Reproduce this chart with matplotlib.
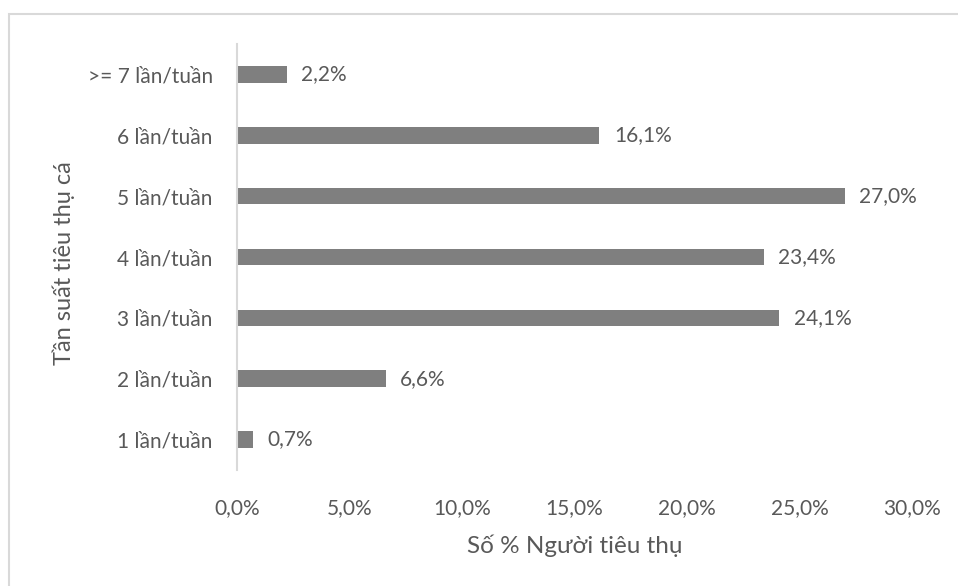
import matplotlib.pyplot as plt
from matplotlib.patches import Rectangle
from matplotlib.ticker import FuncFormatter

# frequency of fish consumption per week, share of consumers (%)
categories = ["1 lần/tuần", "2 lần/tuần", "3 lần/tuần", "4 lần/tuần",
              "5 lần/tuần", "6 lần/tuần", ">= 7 lần/tuần"]
percent = [0.7, 6.6, 24.1, 23.4, 27.0, 16.1, 2.2]
x_ticks = [0, 5, 10, 15, 20, 25, 30]

plt.rcParams['font.family'] = ['Lato', 'DejaVu Sans']
text_color = '#595959'
bar_color = '#7f7f7f'

W, H = 958, 586
fig = plt.figure(figsize=(W / 100, H / 100), dpi=100)
ax = fig.add_axes([237 / W, (H - 470) / H, (912 - 237) / W, (470 - 44) / H])

# outer frame of the chart area (runs off the right and bottom edges)
fig.patches.append(Rectangle((9 / W, -0.5), 2.0, (H - 14) / H + 0.5, transform=fig.transFigure,
                             fill=False, edgecolor='#d9d9d9', linewidth=1.5))

y = list(range(len(categories)))
ax.barh(y, percent, height=0.27, color=bar_color)

def pct(v):
    return f"{v:.1f}%".replace('.', ',')

for yi, v in zip(y, percent):
    ax.text(v + 0.65, yi, pct(v), va='center', ha='left', fontsize=15, color=text_color)

ax.set_xlim(0, 30)
ax.set_ylim(-0.5, len(categories) - 0.5)
ax.set_xticks(x_ticks)
ax.xaxis.set_major_formatter(FuncFormatter(lambda v, _: pct(v)))
ax.set_yticks(y)
ax.set_yticklabels(categories)
ax.tick_params(axis='both', length=0, labelsize=15, colors=text_color)
ax.tick_params(axis='x', pad=20)
ax.tick_params(axis='y', pad=17.5)

for s in ['top', 'right', 'bottom']:
    ax.spines[s].set_visible(False)
ax.spines['left'].set_color('#d9d9d9')
ax.spines['left'].set_linewidth(1.5)

ax.set_xlabel("Số % Người tiêu thụ", fontsize=17.5, color=text_color, labelpad=12)
ax.set_ylabel("Tần suất tiêu thụ cá", fontsize=17, color=text_color)
ax.yaxis.set_label_coords(-0.240, 0.486)

fig.savefig('out.png', dpi=100)
